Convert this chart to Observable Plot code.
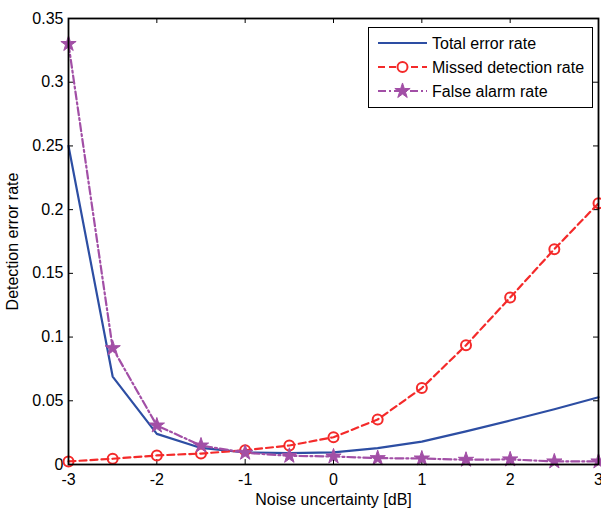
<!DOCTYPE html>
<html>
<head>
<meta charset="utf-8">
<script src="https://cdn.jsdelivr.net/npm/d3@7"></script>
<script src="https://cdn.jsdelivr.net/npm/@observablehq/plot@0.6"></script>
<style>
  body { margin: 0; background: #fff; }
  #wrap { position: relative; width: 601px; height: 512px; font-family: "Liberation Sans", Arial, sans-serif; }
  #legend { position: absolute; left: 368px; top: 27px; }
</style>
</head>
<body>
<div id="wrap"></div>
<script>
const noiseUncertainty = [-3, -2.5, -2, -1.5, -1, -0.5, 0, 0.5, 1, 1.5, 2, 2.5, 3];
const totalErrorRate   = [0.250, 0.069, 0.024, 0.013, 0.0095, 0.009, 0.0095, 0.0128, 0.018, 0.026, 0.0345, 0.0434, 0.0528];
const missedDetection  = [0.0024, 0.0045, 0.0071, 0.0086, 0.0112, 0.0149, 0.0214, 0.0353, 0.060, 0.0936, 0.131, 0.169, 0.205];
const falseAlarm       = [0.330, 0.0913, 0.0306, 0.0149, 0.0092, 0.0068, 0.0063, 0.005, 0.0047, 0.0037, 0.004, 0.0024, 0.0024];
const xTicks = [-3, -2, -1, 0, 1, 2, 3];
const yTicks = [0, 0.05, 0.1, 0.15, 0.2, 0.25, 0.3, 0.35];
const yTickLabels = ["0", "0.05", "0.1", "0.15", "0.2", "0.25", "0.3", "0.35"];
const seriesNames = ["Total error rate", "Missed detection rate", "False alarm rate"];
const colors = ["#2d4ea3", "#f42a2a", "#a24fa6"];
const dashes = [null, "7,4", "8,3,2,3"];

const W = 601, H = 512, mL = 68, mR = 3, mT = 18, mB = 48;
const plotW = W - mL - mR, plotH = H - mT - mB;
const tk = 5;

const rows = (vals) => noiseUncertainty.map((x, i) => ({x, y: vals[i]}));
const total = rows(totalErrorRate), missed = rows(missedDetection), fa = rows(falseAlarm);

const chart = Plot.plot({
  width: W, height: H,
  marginLeft: mL, marginRight: mR, marginTop: mT, marginBottom: mB,
  style: {fontFamily: '"Liberation Sans", Arial, sans-serif', fontSize: "16px", color: "#000", background: "#fff"},
  x: {domain: [-3, 3]},
  y: {domain: [0, 0.35]},
  marks: [
    Plot.axisX({ticks: xTicks, tickSize: 0, tickPadding: 9, tickFormat: d => String(d), fontSize: 16,
      label: "Noise uncertainty [dB]", labelAnchor: "center", labelOffset: 40, labelArrow: "none"}),
    Plot.axisY({ticks: yTicks, tickSize: 0, tickPadding: 5, tickFormat: (d) => yTickLabels[yTicks.indexOf(d)], fontSize: 16,
      label: "Detection error rate", labelAnchor: "center", labelOffset: 62, labelArrow: "none"}),
    // inward ticks (bottom, top, left, right)
    Plot.tickX(xTicks, {x: d => d, insetTop: plotH - tk, stroke: "#000", strokeWidth: 1}),
    Plot.tickX(xTicks, {x: d => d, insetBottom: plotH - tk, stroke: "#000", strokeWidth: 1}),
    Plot.tickY(yTicks, {y: d => d, insetRight: plotW - tk, stroke: "#000", strokeWidth: 1}),
    Plot.tickY(yTicks, {y: d => d, insetLeft: plotW - tk, stroke: "#000", strokeWidth: 1}),
    Plot.line(total, {x: "x", y: "y", stroke: colors[0], strokeWidth: 2.2}),
    Plot.line(missed, {x: "x", y: "y", stroke: colors[1], strokeWidth: 2.2, strokeDasharray: dashes[1]}),
    Plot.line(fa, {x: "x", y: "y", stroke: colors[2], strokeWidth: 2.2, strokeDasharray: dashes[2]}),
    Plot.dot(missed, {x: "x", y: "y", r: 5, stroke: colors[1], strokeWidth: 2, fill: "none"}),
    Plot.dot(fa, {x: "x", y: "y", r: 4.8, symbol: "star", fill: colors[2], stroke: colors[2], strokeWidth: 1}),
    Plot.frame({stroke: "#000", strokeWidth: 1.8})
  ]
});
const wrap = document.getElementById("wrap");
wrap.appendChild(chart);

// Legend
const lg = d3.create("svg").attr("id", "legend").attr("width", 225).attr("height", 81);
lg.append("rect").attr("x", 0.5).attr("y", 0.5).attr("width", 224).attr("height", 80)
  .attr("fill", "#fff").attr("stroke", "#000").attr("stroke-width", 1);
seriesNames.forEach((name, i) => {
  const cy = 16 + i * 24;
  lg.append("line").attr("x1", 10).attr("x2", 59).attr("y1", cy).attr("y2", cy)
    .attr("stroke", colors[i]).attr("stroke-width", 2.2).attr("stroke-dasharray", dashes[i]);
  if (i === 1) lg.append("circle").attr("cx", 34.5).attr("cy", cy).attr("r", 5)
    .attr("fill", "#fff").attr("stroke", colors[i]).attr("stroke-width", 2);
  if (i === 2) lg.append("path").attr("transform", `translate(34.5,${cy})`)
    .attr("d", d3.symbol(d3.symbolStar, 4.8 * 4.8 * Math.PI)()).attr("fill", colors[i]).attr("stroke", colors[i]);
  lg.append("text").attr("x", 64).attr("y", cy).attr("dy", "0.36em")
    .attr("font-family", '"Liberation Sans", Arial, sans-serif').attr("font-size", 16).attr("fill", "#000").text(name);
});
wrap.appendChild(lg.node());
</script>
</body>
</html>
